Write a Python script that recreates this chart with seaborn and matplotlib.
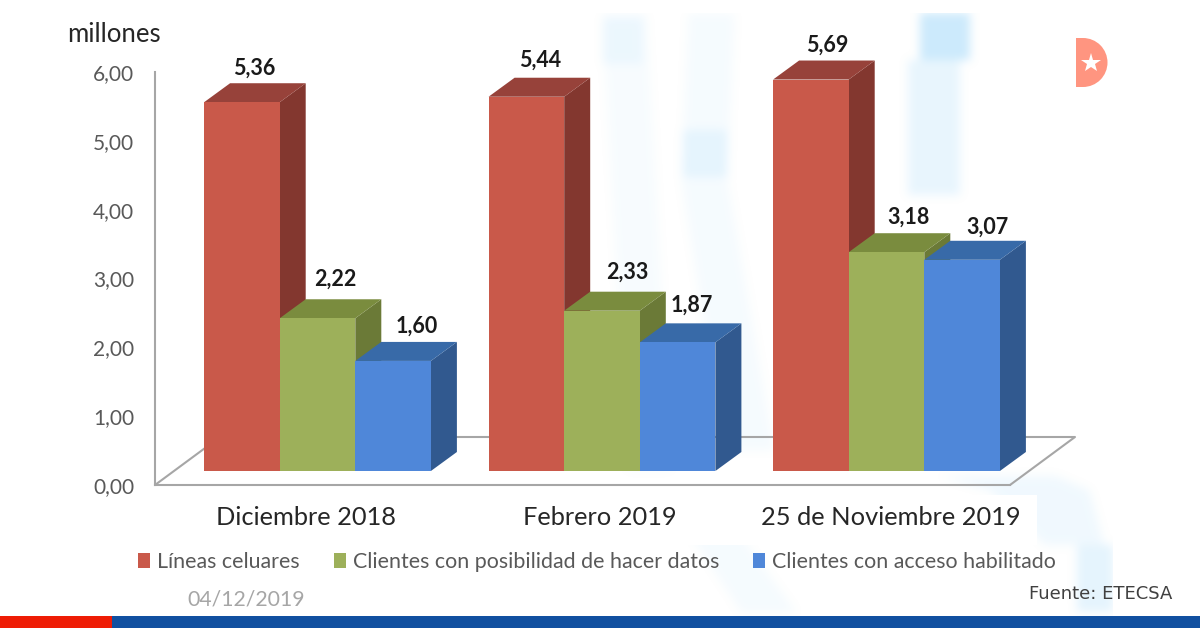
import numpy as np
import pandas as pd
import matplotlib
matplotlib.use("Agg")
import matplotlib.pyplot as plt
import seaborn as sns
from matplotlib.patches import Polygon, Rectangle, Wedge

# datos (millones)
periodos = ["Diciembre 2018", "Febrero 2019", "25 de Noviembre 2019"]
series = ["Líneas celuares", "Clientes con posibilidad de hacer datos", "Clientes con acceso habilitado"]
lineas = [5.36, 5.44, 5.69]
posibilidad = [2.22, 2.33, 3.18]
habilitado = [1.60, 1.87, 3.07]
y_ticks = [0, 1, 2, 3, 4, 5, 6]

# colores: frente, lado y tapa de cada serie
frente = ["#C9594A", "#9DB05A", "#4F87D9"]
lado = ["#83372F", "#6B7A37", "#31598F"]
tapa = ["#97423A", "#7A8C3E", "#386AA8"]

# ajuste fino de etiquetas de valor, en pixeles (serie x periodo)
label_dx = [[12, 14, 16], [18, 25, 22], [24, 14, 25]]
label_dy = [[15, 18, 15], [20, 19, 16], [16, 18, 14]]
cat_dx = [-12, -2, 4]

W, H = 1200, 628
X0, X1 = 155, 1010      # frente del piso
Y_BASE, Y_PISO, Y_TOP = 471, 485, 72
PX_UNIDAD = 68.8
PX_GRUPO = 284.5
CENTRO_1 = 317.5
DX, DY = 26, 19         # profundidad del efecto 3D

# trazos de la marca de agua: y, x, ancho, intensidad
trazos = [
    ([14, 470], [625, 650], [44, 44], 0.09),
    ([18, 64], [623, 623], [40, 40], 0.22),
    ([14, 180, 450], [712, 705, 750], [46, 46, 50], 0.11),
    ([130, 177], [705, 705], [44, 44], 0.30),
    ([533, 613], [715, 770], [50, 55], 0.11),
    ([60, 195], [934, 934], [52, 52], 0.26),
    ([13, 60], [945, 945], [50, 50], 0.58),
    ([476, 490, 545], [1000, 1040, 1075], [115, 100, 60], 0.17),
    ([545, 612], [1095, 1095], [36, 36], 0.30),
]


def blur(m, n=9, veces=3):
    # desenfoque de caja separable
    k = np.ones(n) / n
    for _ in range(veces):
        m = np.apply_along_axis(np.convolve, 0, m, k, mode="same")
        m = np.apply_along_axis(np.convolve, 1, m, k, mode="same")
    return m


def marca_agua():
    m = np.zeros((H, W))
    for ys, xs, anchos, v in trazos:
        for y in range(ys[0], ys[-1]):
            cx = np.interp(y, ys, xs)
            w = np.interp(y, ys, anchos)
            a, b = int(cx - w / 2), int(cx + w / 2)
            m[y, a:b] = np.maximum(m[y, a:b], v)
    m = blur(m)
    m[:13, :] = 0
    m[495:545, 430:1037] = 0      # caja blanca bajo los rotulos
    m[500:, 1113:] = 0
    rgba = np.ones((H, W, 4))
    rgba[..., :3] = matplotlib.colors.to_rgb("#A8DBFA")
    rgba[..., 3] = m
    return rgba


sns.set_theme(style="white")
plt.rcParams["font.family"] = ["Lato", "DejaVu Sans"]

df = pd.DataFrame({
    "periodo": periodos * 3,
    "serie": [s for s in series for _ in periodos],
    "valor": lineas + posibilidad + habilitado,
})

fig = plt.figure(figsize=(W / 100, H / 100), dpi=100, facecolor="white")
pos = [X0 / W, (H - Y_PISO) / H, (X1 - X0) / W, (Y_PISO - Y_TOP) / H]

# capa de fondo en pixeles: marca de agua, piso, pie y logo
deco = fig.add_axes([0, 0, 1, 1], zorder=0)
deco.imshow(marca_agua(), extent=(0, W, H, 0), aspect="auto", zorder=1, interpolation="nearest")
deco.set_xlim(0, W)
deco.set_ylim(H, 0)
deco.axis("off")

deco.plot([X0, X0 + 65, 1075, X1], [Y_PISO, 437, 437, Y_PISO], color="#A6A6A6", lw=1.5, zorder=2)
deco.add_patch(Rectangle((0, 616), 112, 12, color="#EE1C05", lw=0, zorder=3))
deco.add_patch(Rectangle((112, 616), W - 112, 12, color="#1150A0", lw=0, zorder=3))
deco.add_patch(Wedge((1083, 62.5), 24.5, -90, 90, color="#FF9580", lw=0, zorder=3))
deco.add_patch(Rectangle((1076, 38), 7, 49, color="#FF9580", lw=0, zorder=3))
deco.plot([1091], [63], marker="*", ms=15, color="white", mew=0, zorder=4)
deco.text(67, 34, "millones", fontsize=18.5, color="#262626", va="center")
deco.text(187, 600, "04/12/2019", fontsize=15.3, color="#A6A6A6", va="center")
deco.text(1029, 594, "Fuente: ETECSA", fontsize=13, color="#404040", va="center",
          family=["DejaVu Sans"])

# eje de valores
eje = fig.add_axes(pos, zorder=1, facecolor="none")
eje.set_ylim(0, 6)
eje.set_yticks(y_ticks, [f"{v:.2f}".replace(".", ",") for v in y_ticks])
eje.set_xticks([])
eje.tick_params(axis="y", length=0, pad=15, labelsize=15, labelcolor="#595959")
for lado_eje in ("top", "right"):
    eje.spines[lado_eje].set_visible(False)
for lado_eje in ("left", "bottom"):
    eje.spines[lado_eje].set_color("#A6A6A6")
    eje.spines[lado_eje].set_linewidth(1.5)

# barras
ax = fig.add_axes(pos, zorder=2, facecolor="none")
sns.barplot(data=df, x="periodo", y="valor", hue="serie", order=periodos, hue_order=series,
            palette=frente, width=3 * 75.6 / PX_GRUPO, gap=0, saturation=1, ax=ax, lw=0)
ax.set_xlim((X0 - CENTRO_1) / PX_GRUPO, (X1 - CENTRO_1) / PX_GRUPO)
ax.set_ylim((Y_BASE - Y_PISO) / PX_UNIDAD, (Y_BASE - Y_TOP) / PX_UNIDAD)
ax.set_xlabel("")
ax.set_ylabel("")
ax.set_xticks([])
ax.set_yticks([])
sns.despine(ax=ax, left=True, bottom=True)

ddx = DX / PX_GRUPO
ddy = DY / PX_UNIDAD
for i, cont in enumerate(ax.containers):
    for j, bar in enumerate(cont):
        x0, x1 = bar.get_x(), bar.get_x() + bar.get_width()
        h = bar.get_height()
        z = 3 + i * 3 + j * 10
        bar.set_zorder(z + 2)
        ax.add_patch(Polygon([(x1, 0), (x1 + ddx, ddy), (x1 + ddx, h + ddy), (x1, h)],
                             color=lado[i], lw=0, zorder=z, clip_on=False))
        ax.add_patch(Polygon([(x0, h), (x0 + ddx, h + ddy), (x1 + ddx, h + ddy), (x1, h)],
                             color=tapa[i], lw=0, zorder=z + 1, clip_on=False))
        ax.annotate(f"{h:.2f}".replace(".", ","), ((x0 + x1) / 2, h),
                    xytext=(label_dx[i][j] * 0.72, (DY + label_dy[i][j]) * 0.72),
                    textcoords="offset points", ha="center", va="center",
                    fontsize=15.5, fontweight="bold", color="#1A1A1A", zorder=60)

for j, nombre in enumerate(periodos):
    ax.annotate(nombre, (j, 0), xycoords=("data", "axes fraction"), xytext=(cat_dx[j] * 0.72, -23.5),
                textcoords="offset points", ha="center", va="center", fontsize=18.3, color="#262626")

handles, labels = ax.get_legend_handles_labels()
ax.legend(handles, labels, ncol=3, frameon=False, loc="center left",
          bbox_to_anchor=(-0.042, -0.187), labelcolor="#595959",
          handlelength=0.55, handleheight=0.7, handletextpad=0.33, columnspacing=1.6,
          prop={"family": "Lato", "size": 15.4})

fig.savefig("out.png", dpi=100)
